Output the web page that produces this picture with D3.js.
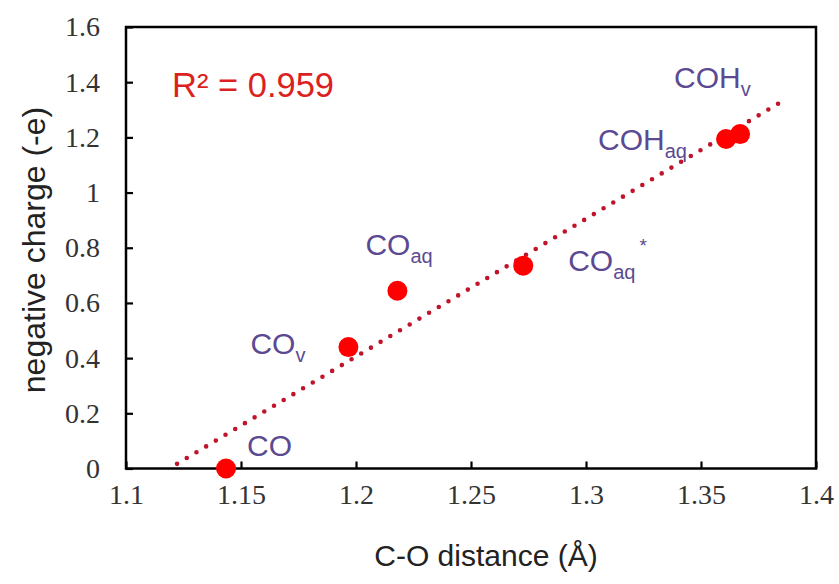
<!DOCTYPE html>
<html>
<head>
<meta charset="utf-8">
<script src="https://cdn.jsdelivr.net/npm/d3@7/dist/d3.min.js"></script>
<style>
  html, body { margin: 0; padding: 0; background: #fff; }
  svg { display: block; }
  .tick text { font-family: "Liberation Serif", "Times New Roman", serif; fill: #333; }
  .title { font-family: "Liberation Sans", Arial, sans-serif; fill: #222; }
  .lbl { font-family: "Liberation Sans", Arial, sans-serif; fill: #5b4a92; }
</style>
</head>
<body>
<svg id="chart"></svg>
<script>
// species, C-O bond length (Å) and negative charge (-e)
const names = ['CO', 'COv', 'COaq', 'COaq*', 'COHaq', 'COHv'];
const distance = [1.1435, 1.1967, 1.218, 1.2727, 1.3609, 1.367];
const charge = [0.0, 0.44, 0.644, 0.735, 1.194, 1.212];

const xTicks = [1.1, 1.15, 1.2, 1.25, 1.3, 1.35, 1.4];
const yTicks = [0, 0.2, 0.4, 0.6, 0.8, 1, 1.2, 1.4, 1.6];
const trendRange = [1.1222, 1.3865];
const r2 = '0.959';

// label text pieces: main, subscript, superscript
const labelParts = [
    ['CO', '', ''],
    ['CO', 'v', ''],
    ['CO', 'aq', ''],
    ['CO', 'aq', '*'],
    ['COH', 'aq', ''],
    ['COH', 'v', '']
];
// label offsets from the point, in pixels
const labelOffset = [[21, -13], [-98, 7], [-32, -36], [45, 5], [-128, 11], [-66, -46]];

const W = 839, H = 584;
const margin = {top: 27, right: 23, bottom: 115.5, left: 126};
const width = W - margin.left - margin.right,
    height = H - margin.top - margin.bottom;

const svg = d3.select('#chart').attr('width', W).attr('height', H);
const g = svg.append('g')
    .attr('transform', 'translate(' + margin.left + ',' + margin.top + ')');

const x = d3.scaleLinear().domain([1.1, 1.4]).range([0, width]);
const y = d3.scaleLinear().domain([0, 1.6]).range([height, 0]);

const fmt = d => String(+d.toFixed(2));

const gx = g.append('g')
    .attr('transform', 'translate(0,' + height + ')')
    .call(d3.axisBottom(x).tickValues(xTicks).tickSizeInner(-7).tickSizeOuter(0)
        .tickPadding(16).tickFormat(fmt));
const gy = g.append('g')
    .call(d3.axisLeft(y).tickValues(yTicks).tickSizeInner(-7).tickSizeOuter(0)
        .tickPadding(26).tickFormat(fmt));
[gx, gy].forEach(a => {
    a.select('.domain').remove();
    a.selectAll('.tick line').attr('stroke', '#000').attr('stroke-width', 2.2);
    a.selectAll('.tick text').attr('font-size', 28);
});
gx.selectAll('.tick text').attr('dy', '0.71em');

// frame
g.append('rect')
    .attr('width', width).attr('height', height)
    .attr('fill', 'none').attr('stroke', '#000').attr('stroke-width', 2.5);

// linear trendline (least squares)
const mx = d3.mean(distance), my = d3.mean(charge);
let sxy = 0, sxx = 0;
distance.forEach((d, i) => {
    sxy += (d - mx) * (charge[i] - my);
    sxx += (d - mx) * (d - mx);
});
const slope = sxy / sxx, icpt = my - slope * mx;
g.append('path')
    .datum(trendRange)
    .attr('d', d3.line().x(d => x(d)).y(d => y(slope * d + icpt)))
    .attr('fill', 'none')
    .attr('stroke', '#c0142a')
    .attr('stroke-width', 4.6)
    .attr('stroke-linecap', 'round')
    .attr('stroke-dasharray', '0 11.3');

// points
g.selectAll('circle.pt')
    .data(distance)
    .join('circle')
    .attr('class', 'pt')
    .attr('cx', d => x(d))
    .attr('cy', (d, i) => y(charge[i]))
    .attr('r', 10)
    .attr('fill', '#ff0000');

// point labels
labelParts.forEach((p, i) => {
    const t = g.append('text')
        .attr('class', 'lbl')
        .attr('x', x(distance[i]) + labelOffset[i][0])
        .attr('y', y(charge[i]) + labelOffset[i][1])
        .attr('font-size', 30);
    t.append('tspan').text(p[0]);
    if (p[1]) t.append('tspan').attr('font-size', 20).attr('dy', 8).text(p[1]);
    if (p[2]) t.append('tspan').attr('font-size', 19).attr('dx', 4).attr('dy', -27).text(p[2]);
});

// R² annotation
g.append('text')
    .attr('x', 46).attr('y', 70)
    .attr('font-family', '"Liberation Sans", Arial, sans-serif')
    .attr('font-size', 34.5)
    .attr('fill', '#dc1f1f')
    .text('R² = ' + r2);

// axis titles
svg.append('text')
    .attr('class', 'title')
    .attr('x', 486).attr('y', 566)
    .attr('text-anchor', 'middle')
    .attr('font-size', 30)
    .text('C-O distance (Å)');
svg.append('text')
    .attr('class', 'title')
    .attr('transform', 'translate(45,250) rotate(-90)')
    .attr('text-anchor', 'middle')
    .attr('font-size', 32)
    .text('negative charge (-e)');
</script>
</body>
</html>
